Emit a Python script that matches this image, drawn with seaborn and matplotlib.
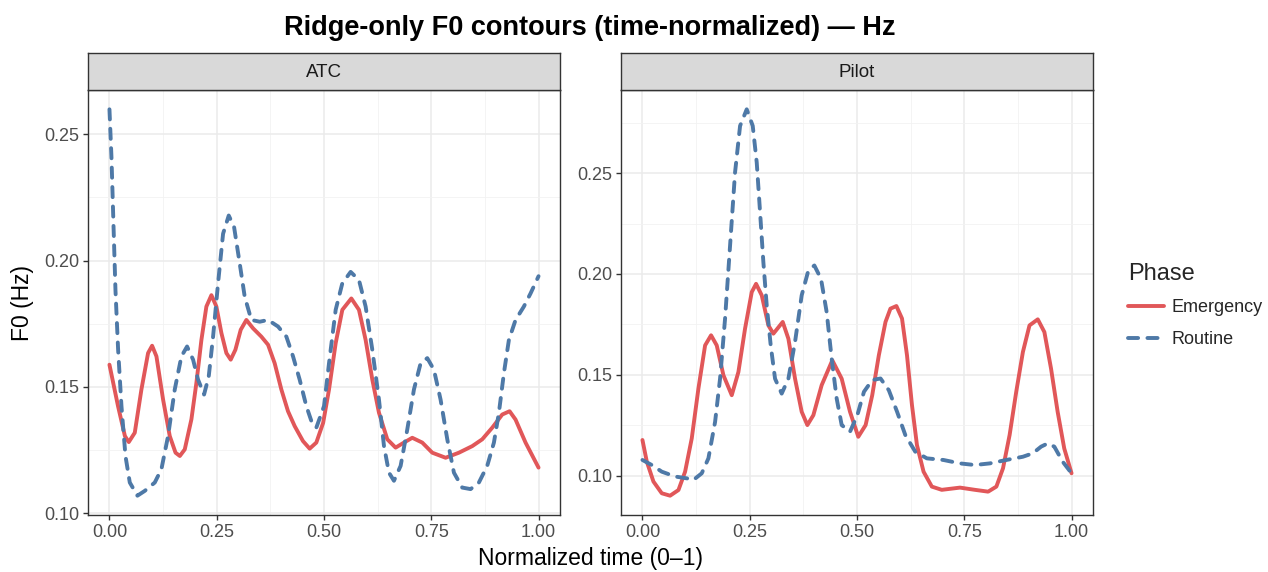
import pandas as pd
import matplotlib
matplotlib.use("Agg")
import matplotlib.pyplot as plt
import seaborn as sns

# values
atc_em_t = [0.0, 0.020, 0.036, 0.045, 0.059, 0.0745, 0.090, 0.0994, 0.1095, 0.125, 0.1405,
            0.154, 0.164, 0.1755, 0.191, 0.2026, 0.2143, 0.2259, 0.2376, 0.2492, 0.2609,
            0.2725, 0.2826, 0.2935, 0.3059, 0.3191, 0.3346, 0.354, 0.3696, 0.385, 0.4006,
            0.4161, 0.4317, 0.451, 0.4666, 0.4821, 0.498, 0.5117, 0.5272, 0.5427, 0.5637,
            0.5815, 0.597, 0.6126, 0.6281, 0.6475, 0.6669, 0.6863, 0.7057, 0.729, 0.7523,
            0.7834, 0.8144, 0.8455, 0.8688, 0.8921, 0.9154, 0.9325, 0.9464, 0.9697, 1.0]
atc_em_f0 = [0.1588, 0.1424, 0.1306, 0.1282, 0.1319, 0.1490, 0.1634, 0.1663, 0.1621, 0.1450,
             0.1306, 0.1240, 0.1227, 0.1253, 0.1372, 0.1516, 0.1686, 0.1818, 0.1863, 0.1818,
             0.1713, 0.1634, 0.1608, 0.1647, 0.1726, 0.1765, 0.1732, 0.1699, 0.1667, 0.1594,
             0.1490, 0.1404, 0.1345, 0.1286, 0.1256, 0.1280, 0.1358, 0.1490, 0.1673, 0.1805,
             0.1850, 0.1805, 0.1686, 0.1529, 0.1398, 0.1293, 0.1260, 0.1280, 0.1299, 0.1280,
             0.1240, 0.1220, 0.1240, 0.1266, 0.1293, 0.1339, 0.1391, 0.1404, 0.1371, 0.1280,
             0.1181]

atc_rt_t = [0.0, 0.0047, 0.0093, 0.014, 0.0202, 0.028, 0.0373, 0.0474, 0.0652, 0.0823, 0.1056,
            0.1211, 0.1366, 0.1522, 0.1677, 0.1809, 0.1949, 0.2065, 0.2205, 0.2314, 0.2415,
            0.2531, 0.2648, 0.278, 0.2904, 0.3036, 0.3152, 0.3307, 0.3502, 0.3696, 0.3929,
            0.4123, 0.4278, 0.4433, 0.4589, 0.472, 0.4821, 0.5, 0.5117, 0.5272, 0.5427,
            0.5621, 0.5815, 0.597, 0.6126, 0.6281, 0.6398, 0.6514, 0.663, 0.6786, 0.6941,
            0.7096, 0.7252, 0.7407, 0.7562, 0.7717, 0.7873, 0.8028, 0.8222, 0.8416, 0.861,
            0.8804, 0.896, 0.9076, 0.9193, 0.9309, 0.9464, 0.9658, 0.9814, 1.0]
atc_rt_f0 = [0.2598, 0.2408, 0.2146, 0.1883, 0.1647, 0.1424, 0.1227, 0.1122, 0.1070, 0.1089,
             0.1122, 0.1175, 0.1306, 0.1490, 0.1621, 0.1660, 0.1608, 0.1529, 0.1470, 0.1542,
             0.1699, 0.1910, 0.2106, 0.2178, 0.2133, 0.1988, 0.1857, 0.1765, 0.1758, 0.1765,
             0.1739, 0.1699, 0.1621, 0.1529, 0.1424, 0.1358, 0.1339, 0.1424, 0.1594, 0.1805,
             0.1910, 0.1955, 0.1923, 0.1818, 0.1647, 0.1450, 0.1266, 0.1161, 0.1129, 0.1188,
             0.1332, 0.1490, 0.1594, 0.1614, 0.1568, 0.1450, 0.1293, 0.1161, 0.1102, 0.1096,
             0.1122, 0.1188, 0.1280, 0.1398, 0.1555, 0.1686, 0.1765, 0.1818, 0.1870, 0.1938]

pil_em_t = [0.0, 0.0101, 0.0256, 0.045, 0.0644, 0.0839, 0.0994, 0.1149, 0.1304, 0.146, 0.1599,
            0.1731, 0.1887, 0.2081, 0.2236, 0.2391, 0.2547, 0.2648, 0.278, 0.2935, 0.3051,
            0.3269, 0.3401, 0.3556, 0.3711, 0.3843, 0.3983, 0.4177, 0.4425, 0.4643, 0.4837,
            0.503, 0.5201, 0.5355, 0.5509, 0.5664, 0.5779, 0.5918, 0.6049, 0.6165, 0.6281,
            0.6397, 0.6551, 0.6744, 0.6975, 0.74, 0.7747, 0.8056, 0.8248, 0.8403, 0.8557,
            0.8711, 0.8866, 0.902, 0.9213, 0.9367, 0.9522, 0.9676, 0.983, 1.0]
pil_em_f0 = [0.1177, 0.1070, 0.0971, 0.0913, 0.0901, 0.0929, 0.1020, 0.1185, 0.1432, 0.1646,
             0.1696, 0.1646, 0.1498, 0.1399, 0.1514, 0.1729, 0.1910, 0.1951, 0.1894, 0.1745,
             0.1704, 0.1762, 0.1679, 0.1481, 0.1317, 0.1251, 0.1300, 0.1449, 0.1572, 0.1481,
             0.1317, 0.1193, 0.1251, 0.1399, 0.1597, 0.1762, 0.1828, 0.1841, 0.1779, 0.1597,
             0.1350, 0.1152, 0.1020, 0.0946, 0.0930, 0.0941, 0.0930, 0.0921, 0.0946, 0.1037,
             0.1202, 0.1416, 0.1613, 0.1745, 0.1775, 0.1712, 0.1531, 0.1317, 0.1135, 0.1012]

pil_rt_t = [0.0, 0.0217, 0.045, 0.0761, 0.1033, 0.1188, 0.1382, 0.1537, 0.1693, 0.1809, 0.1925,
            0.2042, 0.2158, 0.2275, 0.243, 0.257, 0.2663, 0.2741, 0.2818, 0.2896, 0.2989,
            0.309, 0.3245, 0.3401, 0.3556, 0.3711, 0.3866, 0.4006, 0.4161, 0.4293, 0.441,
            0.4526, 0.4643, 0.4837, 0.5008, 0.5162, 0.5355, 0.5548, 0.5741, 0.5934, 0.6127,
            0.6358, 0.6628, 0.7014, 0.74, 0.7747, 0.8094, 0.848, 0.8866, 0.9097, 0.929,
            0.9444, 0.9599, 0.9792, 1.0]
pil_rt_f0 = [0.1078, 0.1053, 0.1020, 0.0996, 0.0987, 0.0979, 0.1012, 0.1086, 0.1267, 0.1482,
             0.1778, 0.2141, 0.2503, 0.2734, 0.2816, 0.2734, 0.2553, 0.2306, 0.2058, 0.1844,
             0.1646, 0.1481, 0.1407, 0.1481, 0.1663, 0.1894, 0.2017, 0.2042, 0.1976, 0.1811,
             0.1580, 0.1383, 0.1251, 0.1218, 0.1300, 0.1416, 0.1474, 0.1482, 0.1424, 0.1317,
             0.1201, 0.1119, 0.1086, 0.1078, 0.1061, 0.1053, 0.1061, 0.1078, 0.1094, 0.1111,
             0.1144, 0.1160, 0.1144, 0.1070, 0.1012]

speakers = ["ATC", "Pilot"]
phases = ["Emergency", "Routine"]
x_ticks = [0.0, 0.25, 0.5, 0.75, 1.0]
y_ticks = [0.10, 0.15, 0.20, 0.25]


def frame(speaker, phase, t, f0):
    return pd.DataFrame({"Speaker": speaker, "Phase": phase, "time": t, "f0": f0})


df = pd.concat([
    frame("ATC", "Emergency", atc_em_t, atc_em_f0),
    frame("ATC", "Routine", atc_rt_t, atc_rt_f0),
    frame("Pilot", "Emergency", pil_em_t, pil_em_f0),
    frame("Pilot", "Routine", pil_rt_t, pil_rt_f0),
], ignore_index=True)

sns.set_theme(style="white")
plt.rcParams["font.family"] = ["Liberation Sans", "DejaVu Sans"]

palette = {"Emergency": "#E15759", "Routine": "#4E79A7"}
dashes = {"Emergency": "", "Routine": (2.6, 2.4)}

fig = plt.figure(figsize=(12.68, 5.72), dpi=100)
W, H = 1268, 572
panels = [(88, 560), (621, 1093)]
ax_top, ax_bot = 90, 515
strip_top = 53

for (x0, x1), sp in zip(panels, speakers):
    ax = fig.add_axes([x0 / W, 1 - ax_bot / H, (x1 - x0) / W, (ax_bot - ax_top) / H])
    sub = df[df["Speaker"] == sp]
    sns.lineplot(data=sub, x="time", y="f0", hue="Phase", style="Phase",
                 hue_order=phases, style_order=phases, palette=palette, dashes=dashes,
                 linewidth=2.8, ax=ax, sort=False, estimator=None)
    for ln in ax.get_lines():
        ln.set_dash_capstyle("round")
        ln.set_solid_capstyle("round")
        ln.set_solid_joinstyle("round")
        ln.set_dash_joinstyle("round")
    lo, hi = sub["f0"].min(), sub["f0"].max()
    pad = (hi - lo) * 0.05
    ax.set_xlim(-0.05, 1.05)
    ax.set_xticks(x_ticks)
    ax.set_xticklabels([f"{v:.2f}" for v in x_ticks])
    ax.set_yticks(y_ticks)
    ax.set_yticklabels([f"{v:.2f}" for v in y_ticks])
    ax.set_xticks([0.125, 0.375, 0.625, 0.875], minor=True)
    ax.set_yticks([0.125, 0.175, 0.225, 0.275], minor=True)
    ax.set_ylim(lo - pad, hi + pad)
    ax.grid(True, which="major", color="#EBEBEB", linewidth=1.1)
    ax.grid(True, which="minor", color="#F2F2F2", linewidth=0.6)
    ax.set_axisbelow(True)
    for s in ax.spines.values():
        s.set_color("#333333")
        s.set_linewidth(1.0)
    ax.tick_params(which="major", length=3.5, width=1.0, color="#333333",
                   labelsize=13, labelcolor="#4D4D4D", bottom=True, left=True, pad=3)
    ax.tick_params(which="minor", length=0)
    ax.set_xlabel("")
    ax.set_ylabel("")
    handles, labels = ax.get_legend_handles_labels()
    ax.get_legend().remove()

    sax = fig.add_axes([x0 / W, 1 - ax_top / H, (x1 - x0) / W, (ax_top - strip_top) / H])
    sax.set_facecolor("#D9D9D9")
    sax.set_xticks([])
    sax.set_yticks([])
    for s in sax.spines.values():
        s.set_color("#333333")
        s.set_linewidth(1.0)
    sax.text(0.5, 0.48, sp, ha="center", va="center", fontsize=13.5, color="#1A1A1A",
             transform=sax.transAxes)

fig.text(590 / W, 1 - 28 / H, "Ridge-only F0 contours (time-normalized) \u2014 Hz",
         ha="center", va="center", fontsize=19.5, fontweight="bold", color="black")
fig.text(590 / W, 1 - 559 / H, "Normalized time (0\u20131)", ha="center", va="center",
         fontsize=16.5, color="black")
fig.text(22 / W, 1 - 303 / H, "F0 (Hz)", ha="center", va="center", rotation=90,
         fontsize=16.5, color="black")

for h in handles:
    h.set_dash_capstyle("round")
    h.set_solid_capstyle("round")
leg = fig.legend(handles, labels, title="Phase", loc="upper left",
                 bbox_to_anchor=(1119 / W, 1 - 254 / H), frameon=False, borderpad=0,
                 fontsize=13, title_fontsize=17, handlelength=2.0,
                 labelspacing=0.8, handletextpad=0.4)
leg._legend_box.align = "left"

fig.savefig("out.png", dpi=100)
